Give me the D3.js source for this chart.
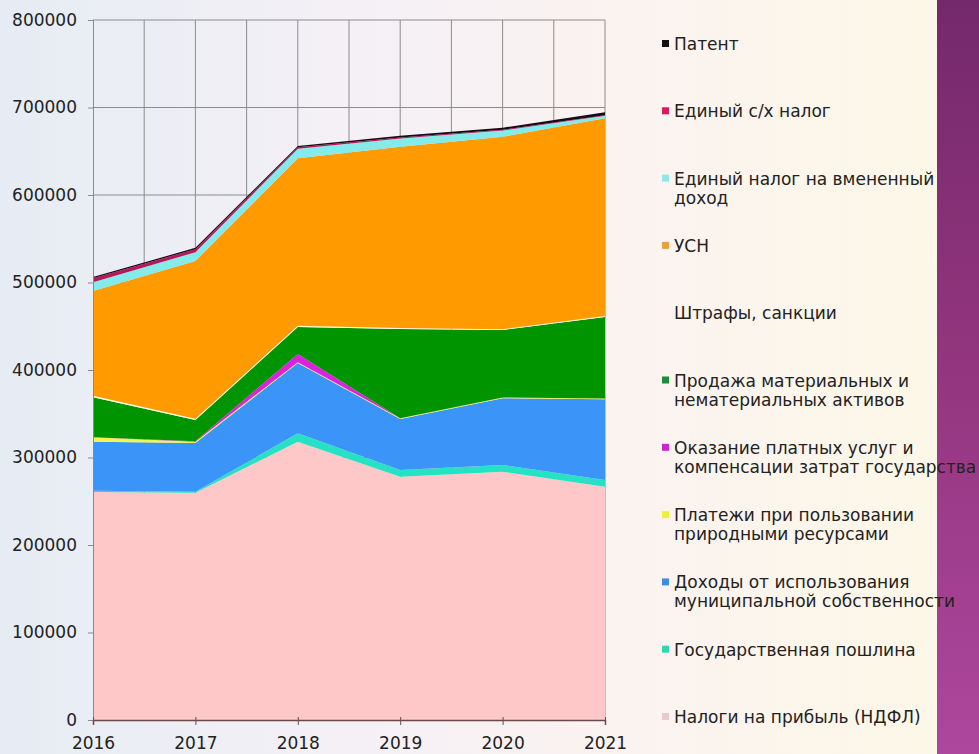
<!DOCTYPE html>
<html>
<head>
<meta charset="utf-8">
<script src="https://cdn.jsdelivr.net/npm/d3@7"></script>
<style>
  body { margin: 0; padding: 0; overflow: hidden; }
  svg { display: block; }
  text { font-family: "DejaVu Sans", Verdana, sans-serif; fill: #222; }
</style>
</head>
<body>
<svg id="chart" width="979" height="754"></svg>
<script>
// years on the x axis
var years = [2016, 2017, 2018, 2019, 2020, 2021];

// series, bottom of the stack first
var ndfl      = [260600, 259700, 318000, 278000, 283800, 266600];
var poshlina  = [1500, 1100, 9600, 7700, 7600, 7700];
var municipal = [55900, 55800, 80400, 58300, 76300, 92200];
var prirodnye = [5200, 1500, 1000, 1000, 1000, 1000];
var platnye   = [0, 500, 9300, 0, 0, 0];
var prodazha  = [45800, 24300, 30800, 102000, 77000, 93100];
var shtrafy   = [1500, 1500, 1500, 1000, 1000, 1000];
var usn       = [119800, 180200, 191400, 207200, 219900, 226000];
var envd      = [10000, 10000, 11000, 9400, 7000, 3000];
var selhoz    = [4500, 3500, 1500, 1000, 1000, 500];
var patent    = [1500, 1500, 1500, 2000, 2300, 3500];

var yTicks = [0, 100000, 200000, 300000, 400000, 500000, 600000, 700000, 800000];

var series = [
  {key: "ndfl",      values: ndfl,      color: "#ffc8c8"},
  {key: "poshlina",  values: poshlina,  color: "#26e2c4"},
  {key: "municipal", values: municipal, color: "#3b95f8"},
  {key: "prirodnye", values: prirodnye, color: "#f4f454"},
  {key: "platnye",   values: platnye,   color: "#dc22dc"},
  {key: "prodazha",  values: prodazha,  color: "#009400"},
  {key: "shtrafy",   values: shtrafy,   color: "#fbfbd8"},
  {key: "usn",       values: usn,       color: "#ff9a00"},
  {key: "envd",      values: envd,      color: "#84eaea"},
  {key: "selhoz",    values: selhoz,    color: "#b8175a"},
  {key: "patent",    values: patent,    color: "#1a0a14"}
];

// legend, top to bottom
var legend = [
  {lines: ["Патент"], color: "#111111"},
  {lines: ["Единый с/х налог"], color: "#d81b5e"},
  {lines: ["Единый налог на вмененный", "доход"], color: "#8ee8e8"},
  {lines: ["УСН"], color: "#eaa040"},
  {lines: ["Штрафы, санкции"], color: null},
  {lines: ["Продажа материальных и", "нематериальных активов"], color: "#1f8a3a"},
  {lines: ["Оказание платных услуг и", "компенсации затрат государства"], color: "#d024d0"},
  {lines: ["Платежи при пользовании", "природными ресурсами"], color: "#eeee44"},
  {lines: ["Доходы от использования", "муниципальной собственности"], color: "#3f8fe0"},
  {lines: ["Государственная пошлина"], color: "#30d8b0"},
  {lines: ["Налоги на прибыль (НДФЛ)"], color: "#e6cccc"}
];

var svg = d3.select("#chart");
var width = 979, height = 754;

// background
var defs = svg.append("defs");
var bg = defs.append("linearGradient").attr("id", "bg")
    .attr("x1", "0").attr("y1", "0").attr("x2", "1").attr("y2", "0");
bg.append("stop").attr("offset", "0").attr("stop-color", "#e6ecf4");
bg.append("stop").attr("offset", "0.35").attr("stop-color", "#f4f0f6");
bg.append("stop").attr("offset", "0.65").attr("stop-color", "#fbf3f0");
bg.append("stop").attr("offset", "1").attr("stop-color", "#fcf8e6");

var purple = defs.append("linearGradient").attr("id", "purple")
    .attr("x1", "0").attr("y1", "0").attr("x2", "0").attr("y2", "1");
purple.append("stop").attr("offset", "0").attr("stop-color", "#74296c");
purple.append("stop").attr("offset", "0.5").attr("stop-color", "#94367f");
purple.append("stop").attr("offset", "1").attr("stop-color", "#ad479e");

svg.append("rect").attr("width", width).attr("height", height).attr("fill", "url(#bg)");
svg.append("rect").attr("x", 937).attr("y", 0).attr("width", width - 937).attr("height", height)
    .attr("fill", "url(#purple)");

var x = d3.scaleLinear().domain([2016, 2021]).range([93, 605]);
var y = d3.scaleLinear().domain([0, 800000]).range([720, 20]);

// grid
var halfYears = d3.range(2016.5, 2021.01, 0.5);
svg.append("g").selectAll("line").data(halfYears).enter().append("line")
    .attr("x1", function(d) { return x(d); })
    .attr("x2", function(d) { return x(d); })
    .attr("y1", y(800000)).attr("y2", y(0))
    .attr("stroke", "#8c8c8c").attr("stroke-width", 1);

svg.append("g").selectAll("line").data(yTicks.slice(1)).enter().append("line")
    .attr("x1", x(2016)).attr("x2", x(2021))
    .attr("y1", function(d) { return y(d); })
    .attr("y2", function(d) { return y(d); })
    .attr("stroke", "#8c8c8c").attr("stroke-width", 1);

// stacked areas
var table = years.map(function(yr, i) {
  var row = {year: yr};
  series.forEach(function(s) { row[s.key] = s.values[i]; });
  return row;
});

var stack = d3.stack().keys(series.map(function(s) { return s.key; }));
var layers = stack(table);

var area = d3.area()
    .x(function(d) { return x(d.data.year); })
    .y0(function(d) { return y(d[0]); })
    .y1(function(d) { return y(d[1]); });

svg.append("g").selectAll("path").data(layers).enter().append("path")
    .attr("d", area)
    .attr("fill", function(d, i) { return series[i].color; });

// axes
var yAxis = d3.axisLeft(y).tickValues(yTicks).tickSize(5).tickFormat(d3.format("d"));
var gy = svg.append("g").attr("transform", "translate(" + x(2016) + ",0)").call(yAxis);
gy.select(".domain").attr("stroke", "#8a8a8a");
gy.selectAll(".tick line").attr("stroke", "#8a8a8a");
gy.selectAll(".tick text")
    .attr("x", -16)
    .style("font-size", "17px")
    .style("font-family", "'DejaVu Sans', Verdana, sans-serif")
    .attr("fill", "#222");

var xAxis = d3.axisBottom(x).tickValues(years).tickSize(5).tickFormat(d3.format("d"));
var gx = svg.append("g").attr("transform", "translate(0," + y(0) + ")").call(xAxis);
gx.select(".domain").attr("stroke", "#6d4a4a").attr("stroke-width", 1.5);
gx.selectAll(".tick line").attr("stroke", "#6d4a4a").attr("y1", -3);
gx.selectAll(".tick text")
    .attr("y", 17)
    .style("font-size", "17px")
    .style("font-family", "'DejaVu Sans', Verdana, sans-serif")
    .attr("fill", "#222");

// legend
var lg = svg.append("g");
var item = lg.selectAll("g").data(legend).enter().append("g")
    .attr("transform", function(d, i) { return "translate(662," + (44 + i * 67.3) + ")"; });

item.filter(function(d) { return d.color; }).append("rect")
    .attr("x", 0).attr("y", -4).attr("width", 7).attr("height", 7)
    .attr("fill", function(d) { return d.color; });

item.each(function(d) {
  var t = d3.select(this).append("text")
      .attr("x", 12).attr("y", 6)
      .style("font-size", "17px");
  d.lines.forEach(function(line, j) {
    t.append("tspan").attr("x", 12).attr("dy", j == 0 ? 0 : 19).text(line);
  });
});
</script>
</body>
</html>
